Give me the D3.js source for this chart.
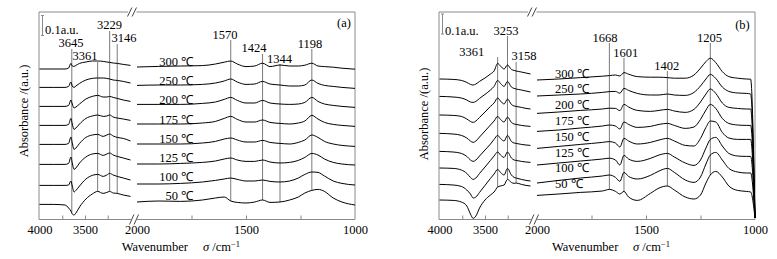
<!DOCTYPE html>
<html>
<head>
<meta charset="utf-8">
<script src="https://cdn.jsdelivr.net/npm/d3@7"></script>
<style>
  body { margin: 0; background: #fff; }
  svg text { font-family: "Liberation Serif", "Times New Roman", serif; font-size: 12.5px; fill: #000; }
</style>
</head>
<body>
<svg id="canvas"></svg>
<script>
const width = 777;
const height = 259;

const temps = ["300 ℃", "250 ℃", "200 ℃", "175 ℃", "150 ℃", "125 ℃", "100 ℃", "50 ℃"];

// panel (a): wavenumber grids of the two axis segments
const waveA1 = [4000, 3850, 3720, 3680, 3655, 3640, 3620, 3600, 3560, 3490, 3420, 3361, 3300, 3260, 3229, 3190, 3146, 3080, 3000];
const waveA2 = [2000, 1900, 1800, 1700, 1640, 1600, 1570, 1540, 1500, 1460, 1424, 1390, 1344, 1300, 1260, 1230, 1198, 1170, 1140, 1100, 1060, 1000];

// absorbance (stacked, a.u.), one row per temperature, 300 -> 50
const specA1 = [
  [0.755, 0.755, 0.755, 0.760, 0.783, 0.770, 0.768, 0.773, 0.783, 0.790, 0.795, 0.795, 0.793, 0.790, 0.788, 0.785, 0.783, 0.778, 0.773],
  [0.663, 0.663, 0.663, 0.668, 0.690, 0.670, 0.663, 0.670, 0.683, 0.700, 0.708, 0.710, 0.710, 0.708, 0.705, 0.700, 0.698, 0.693, 0.685],
  [0.568, 0.568, 0.568, 0.573, 0.600, 0.580, 0.560, 0.565, 0.580, 0.605, 0.618, 0.623, 0.615, 0.615, 0.618, 0.613, 0.608, 0.600, 0.593],
  [0.473, 0.473, 0.473, 0.478, 0.508, 0.480, 0.453, 0.460, 0.480, 0.508, 0.520, 0.525, 0.518, 0.520, 0.525, 0.515, 0.510, 0.505, 0.498],
  [0.378, 0.378, 0.378, 0.383, 0.415, 0.385, 0.353, 0.360, 0.383, 0.413, 0.425, 0.428, 0.418, 0.425, 0.430, 0.420, 0.413, 0.408, 0.395],
  [0.278, 0.278, 0.278, 0.283, 0.315, 0.285, 0.253, 0.260, 0.285, 0.315, 0.330, 0.333, 0.323, 0.330, 0.335, 0.325, 0.318, 0.310, 0.300],
  [0.173, 0.173, 0.173, 0.175, 0.195, 0.170, 0.140, 0.148, 0.170, 0.205, 0.223, 0.228, 0.218, 0.225, 0.233, 0.225, 0.218, 0.210, 0.200],
  [0.078, 0.078, 0.075, 0.060, 0.045, 0.030, 0.025, 0.035, 0.065, 0.105, 0.130, 0.143, 0.133, 0.138, 0.143, 0.135, 0.133, 0.125, 0.118],
];
const specA2 = [
  [0.765, 0.768, 0.770, 0.772, 0.780, 0.789, 0.795, 0.780, 0.767, 0.770, 0.784, 0.767, 0.775, 0.770, 0.770, 0.774, 0.784, 0.770, 0.767, 0.764, 0.759, 0.754],
  [0.673, 0.675, 0.675, 0.678, 0.685, 0.695, 0.705, 0.690, 0.678, 0.680, 0.693, 0.680, 0.675, 0.670, 0.670, 0.675, 0.700, 0.683, 0.673, 0.668, 0.663, 0.658],
  [0.578, 0.578, 0.578, 0.583, 0.590, 0.603, 0.613, 0.598, 0.585, 0.585, 0.598, 0.585, 0.580, 0.578, 0.580, 0.588, 0.613, 0.593, 0.580, 0.573, 0.568, 0.563],
  [0.480, 0.480, 0.480, 0.485, 0.493, 0.508, 0.518, 0.503, 0.490, 0.490, 0.500, 0.488, 0.483, 0.480, 0.485, 0.495, 0.523, 0.505, 0.488, 0.478, 0.473, 0.468],
  [0.380, 0.380, 0.380, 0.385, 0.393, 0.405, 0.410, 0.400, 0.390, 0.390, 0.398, 0.388, 0.383, 0.380, 0.388, 0.400, 0.425, 0.413, 0.393, 0.380, 0.373, 0.368],
  [0.280, 0.280, 0.283, 0.288, 0.295, 0.305, 0.310, 0.300, 0.293, 0.293, 0.300, 0.290, 0.285, 0.288, 0.298, 0.313, 0.333, 0.325, 0.305, 0.288, 0.280, 0.275],
  [0.180, 0.180, 0.183, 0.190, 0.198, 0.205, 0.210, 0.203, 0.195, 0.195, 0.200, 0.193, 0.190, 0.195, 0.210, 0.228, 0.240, 0.238, 0.220, 0.195, 0.183, 0.175],
  [0.090, 0.095, 0.093, 0.100, 0.110, 0.115, 0.095, 0.088, 0.085, 0.090, 0.100, 0.088, 0.090, 0.100, 0.115, 0.135, 0.148, 0.153, 0.143, 0.110, 0.090, 0.075],
];
const peaksA = [3645, 3361, 3229, 3146, 1570, 1424, 1344, 1198];

// panel (b)
const waveB1 = [4000, 3850, 3760, 3700, 3660, 3630, 3600, 3560, 3500, 3440, 3400, 3361, 3330, 3290, 3253, 3210, 3180, 3158, 3100, 3050, 3000];
const waveB2 = [2000, 1900, 1800, 1700, 1668, 1640, 1620, 1601, 1580, 1540, 1480, 1440, 1402, 1370, 1320, 1280, 1250, 1225, 1205, 1180, 1150, 1120, 1080, 1040, 1020, 1000];
const specB1 = [
  [0.705, 0.703, 0.698, 0.688, 0.678, 0.675, 0.680, 0.693, 0.710, 0.730, 0.745, 0.783, 0.770, 0.755, 0.775, 0.753, 0.748, 0.745, 0.740, 0.735, 0.730],
  [0.618, 0.615, 0.610, 0.600, 0.590, 0.588, 0.593, 0.608, 0.628, 0.650, 0.668, 0.698, 0.683, 0.668, 0.693, 0.665, 0.658, 0.655, 0.650, 0.645, 0.640],
  [0.525, 0.523, 0.518, 0.505, 0.493, 0.488, 0.495, 0.513, 0.540, 0.568, 0.585, 0.610, 0.595, 0.580, 0.605, 0.578, 0.570, 0.568, 0.563, 0.558, 0.555],
  [0.433, 0.430, 0.423, 0.410, 0.395, 0.388, 0.395, 0.415, 0.445, 0.475, 0.495, 0.518, 0.503, 0.490, 0.515, 0.488, 0.480, 0.478, 0.473, 0.470, 0.468],
  [0.343, 0.340, 0.333, 0.318, 0.300, 0.293, 0.300, 0.320, 0.350, 0.380, 0.403, 0.423, 0.408, 0.395, 0.423, 0.393, 0.385, 0.383, 0.378, 0.375, 0.373],
  [0.260, 0.258, 0.250, 0.233, 0.213, 0.203, 0.210, 0.233, 0.265, 0.298, 0.320, 0.340, 0.325, 0.313, 0.340, 0.310, 0.300, 0.298, 0.293, 0.290, 0.288],
  [0.178, 0.175, 0.168, 0.150, 0.130, 0.110, 0.115, 0.138, 0.173, 0.208, 0.230, 0.253, 0.238, 0.225, 0.258, 0.225, 0.213, 0.210, 0.203, 0.198, 0.195],
  [0.100, 0.098, 0.090, 0.070, 0.030, 0.008, 0.020, 0.060, 0.100, 0.125, 0.140, 0.165, 0.170, 0.175, 0.203, 0.188, 0.183, 0.185, 0.178, 0.173, 0.170],
];
const specB2 = [
  [0.700, 0.705, 0.712, 0.719, 0.722, 0.725, 0.720, 0.737, 0.729, 0.717, 0.714, 0.714, 0.712, 0.709, 0.709, 0.725, 0.759, 0.792, 0.809, 0.787, 0.742, 0.717, 0.709, 0.705, 0.704, 0.010],
  [0.620, 0.625, 0.630, 0.638, 0.642, 0.643, 0.634, 0.658, 0.648, 0.633, 0.625, 0.625, 0.630, 0.625, 0.623, 0.638, 0.670, 0.705, 0.728, 0.708, 0.665, 0.643, 0.635, 0.633, 0.630, 0.010],
  [0.533, 0.540, 0.548, 0.555, 0.559, 0.558, 0.547, 0.578, 0.565, 0.548, 0.543, 0.548, 0.553, 0.545, 0.538, 0.553, 0.590, 0.630, 0.655, 0.633, 0.585, 0.563, 0.558, 0.555, 0.555, 0.010],
  [0.443, 0.450, 0.460, 0.470, 0.475, 0.470, 0.455, 0.490, 0.478, 0.463, 0.468, 0.478, 0.483, 0.473, 0.458, 0.465, 0.503, 0.550, 0.578, 0.558, 0.508, 0.483, 0.475, 0.473, 0.473, 0.010],
  [0.358, 0.368, 0.378, 0.388, 0.392, 0.385, 0.365, 0.408, 0.395, 0.380, 0.388, 0.400, 0.408, 0.395, 0.373, 0.370, 0.408, 0.463, 0.495, 0.490, 0.438, 0.410, 0.403, 0.403, 0.403, 0.010],
  [0.275, 0.285, 0.295, 0.305, 0.309, 0.300, 0.275, 0.323, 0.305, 0.293, 0.308, 0.325, 0.333, 0.315, 0.285, 0.273, 0.300, 0.360, 0.403, 0.413, 0.370, 0.333, 0.320, 0.318, 0.318, 0.010],
  [0.185, 0.198, 0.210, 0.220, 0.225, 0.213, 0.193, 0.238, 0.218, 0.205, 0.223, 0.245, 0.258, 0.238, 0.200, 0.188, 0.215, 0.280, 0.325, 0.338, 0.300, 0.258, 0.240, 0.235, 0.235, 0.010],
  [0.123, 0.130, 0.138, 0.145, 0.153, 0.143, 0.130, 0.143, 0.115, 0.098, 0.133, 0.160, 0.170, 0.150, 0.115, 0.105, 0.125, 0.185, 0.225, 0.243, 0.215, 0.170, 0.148, 0.143, 0.140, 0.010],
];
const peaksB = [3361, 3253, 3158, 1668, 1601, 1402, 1205];

// axis ticks
const ticksLeft = [4000, 3750, 3500, 3250];
const ticksRight = [2000, 1750, 1500, 1250, 1000];
const labelledTicks = [4000, 3500, 2000, 1500, 1000];

// layout (pixels): peak label [centre x, baseline, line top]
const panels = [
  {
    ox: 0, tag: "(a)", tagX: 344, tagY: 27,
    w1: waveA1, s1: specA1, w2: waveA2, s2: specA2, peaks: peaksA,
    peakPos: [[71, 47, 49], [85, 59.5, 62], [109.5, 29, 31], [124, 41.5, 44], [225, 38.5, 40], [254, 52, 54], [279.5, 62.5, 64], [310, 47.5, 49]],
    tempX: 193, tempAnchor: "end", tempY0: 66, tempStep: 19.2,
    ylabX: 27.5, ylabY: 111, xlabX: 121.7, sigmaX: 203,
    barTop: 15.5, barTextY: 34,
  },
  {
    ox: 400, tag: "(b)", tagX: 742.5, tagY: 29,
    w1: waveB1, s1: specB1, w2: waveB2, s2: specB2, peaks: peaksB,
    peakPos: [[471.7, 56, 57], [506, 35, 36], [524, 59.5, 62], [605, 41.5, 43], [625.7, 57, 58], [666.7, 69.5, 71], [709.5, 41.5, 43]],
    tempX: 555, tempAnchor: "start", tempY0: 77.5, tempStep: 15.8,
    ylabX: 427.5, ylabY: 114, xlabX: 552, sigmaX: 633,
    barTop: 14, barTextY: 34.5,
  },
];

const canvas = d3.select("#canvas").attr("width", width).attr("height", height);

const yScale = d3.scaleLinear().domain([0, 1.04]).range([220, 12]);
const frameColor = "#8a8a8a";

const valueAt = (waves, vals, w) => {
  for (let i = 0; i < waves.length - 1; i++) {
    if (waves[i] >= w && w >= waves[i + 1]) {
      const t = (waves[i] - w) / (waves[i] - waves[i + 1]);
      return vals[i] + t * (vals[i + 1] - vals[i]);
    }
  }
  return vals[vals.length - 1];
};

const drawPanel = (p) => {
  const g = canvas.append("g");
  const ox = p.ox;
  const xLeft = d3.scaleLinear().domain([4000, 3000]).range([ox + 39.5, ox + 130.5]);
  const xRight = d3.scaleLinear().domain([2000, 1000]).range([ox + 137, ox + 355]);
  const bottom = 219.5;

  // frame with broken x axis
  g.append("path")
    .attr("d", `M${ox + 39},${bottom} V12 H${ox + 128} M${ox + 136.5},12 H${ox + 355} V${bottom} H${ox + 137} M${ox + 131},${bottom} H${ox + 39}`)
    .attr("fill", "none")
    .attr("stroke", frameColor)
    .attr("stroke-width", 1);

  [[12, 4.5], [bottom, 5]].forEach(([yy, h]) => {
    const cx = yy === 12 ? ox + 132 : ox + 134;
    [-2.3, 2.3].forEach((dx) => {
      g.append("line")
        .attr("x1", cx + dx - 2.2).attr("y1", yy + h)
        .attr("x2", cx + dx + 2.2).attr("y2", yy - h)
        .attr("stroke", "#333").attr("stroke-width", 0.9);
    });
  });

  // axes
  const fmt = (d) => (labelledTicks.includes(d) ? d : "");
  [[xLeft, ticksLeft], [xRight, ticksRight]].forEach(([sc, tv]) => {
    const ax = g.append("g")
      .attr("transform", `translate(0, ${bottom})`)
      .call(d3.axisBottom(sc).tickValues(tv).tickFormat(fmt).tickSize(-4).tickPadding(5.5));
    ax.select(".domain").remove();
    ax.selectAll(".tick line")
      .attr("stroke", frameColor)
      .attr("opacity", (d) => ([4000, 2000, 1000].includes(d) ? 0 : 1));
    ax.selectAll(".tick text")
      .style("font-family", "'Liberation Serif', serif")
      .style("font-size", "12.5px")
      .attr("fill", "#000");
  });

  // peak marker lines and labels
  const last = p.s1.length - 1;
  p.peaks.forEach((w, i) => {
    const onLeft = w > 2500;
    const sc = onLeft ? xLeft : xRight;
    const low = onLeft ? valueAt(p.w1, p.s1[last], w) : valueAt(p.w2, p.s2[last], w);
    const [tx, ty, top] = p.peakPos[i];
    g.append("line")
      .attr("x1", sc(w)).attr("x2", sc(w))
      .attr("y1", top).attr("y2", yScale(low))
      .attr("stroke", "#7a7a7a").attr("stroke-width", 1);
    g.append("text")
      .attr("x", tx).attr("y", ty)
      .attr("text-anchor", "middle")
      .text(w);
  });

  // spectra
  const lineL = d3.line().x((d) => xLeft(d[0])).y((d) => yScale(d[1])).curve(d3.curveMonotoneX);
  const lineR = d3.line().x((d) => xRight(d[0])).y((d) => yScale(d[1])).curve(d3.curveMonotoneX);
  p.s1.forEach((vals) => {
    g.append("path")
      .attr("d", lineL(p.w1.map((w, j) => [w, vals[j]])))
      .attr("fill", "none").attr("stroke", "#000").attr("stroke-width", 1);
  });
  p.s2.forEach((vals) => {
    g.append("path")
      .attr("d", lineR(p.w2.map((w, j) => [w, vals[j]])))
      .attr("fill", "none").attr("stroke", "#000").attr("stroke-width", 1);
  });

  // temperature labels
  temps.forEach((t, i) => {
    g.append("text")
      .attr("x", p.tempX)
      .attr("y", p.tempY0 + i * p.tempStep)
      .attr("text-anchor", p.tempAnchor)
      .text(t);
  });

  // scale bar 0.1 a.u.
  const barLen = yScale(0) - yScale(0.1);
  const bx = ox + 42.5;
  g.append("path")
    .attr("d", `M${bx - 1.5},${p.barTop} H${bx + 1.5} M${bx},${p.barTop} V${p.barTop + barLen} M${bx - 1.5},${p.barTop + barLen} H${bx + 1.5}`)
    .attr("fill", "none").attr("stroke", frameColor).attr("stroke-width", 1);
  g.append("text").attr("x", ox + 45).attr("y", p.barTextY).text("0.1a.u.");

  // panel tag
  g.append("text").attr("x", p.tagX).attr("y", p.tagY).attr("text-anchor", "middle").text(p.tag);

  // axis titles
  g.append("text")
    .attr("transform", `translate(${p.ylabX}, ${p.ylabY}) rotate(-90)`)
    .attr("text-anchor", "middle")
    .text("Absorbance /(a.u.)");

  g.append("text").attr("x", p.xlabX).attr("y", 251).text("Wavenumber");
  const unit = g.append("text").attr("x", p.sigmaX).attr("y", 251);
  unit.append("tspan").style("font-style", "italic").text("σ");
  unit.append("tspan").text(" /cm");
  unit.append("tspan").attr("dy", -4.5).style("font-size", "8.5px").text("−1");
};

panels.forEach(drawPanel);
</script>
</body>
</html>
